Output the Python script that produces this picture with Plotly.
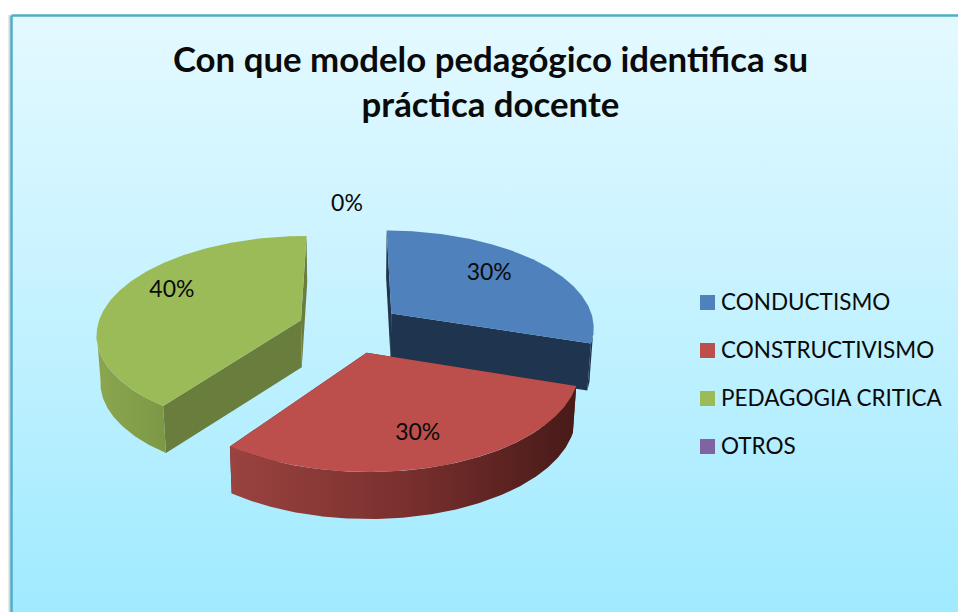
import numpy as np
import plotly.graph_objects as go

TITLE = "Con que modelo pedagógico identifica su<br>práctica docente"
categories = ["CONDUCTISMO", "CONSTRUCTIVISMO", "PEDAGOGIA CRITICA", "OTROS"]
values = [30, 30, 40, 0]
top_colors = ["#4F81BD", "#BC4F4C", "#9BBB59", "#8064A2"]
edge_colors = ["#1F344F", "#5A211F", "#697D3C", "#4D3C62"]
outer_scales = [
    [[0, "#1F344F"], [1, "#1F344F"]],
    [[0, "#9A4340"], [0.5, "#7A302E"], [1, "#471A18"]],
    [[0, "#8CA64F"], [1, "#7D9845"]],
    [[0, "#4D3C62"], [1, "#4D3C62"]],
]
label_r = [0.66, 0.78, 0.72, 1.28]
label_dx = [-2, -7, 4, -3]
label_dy = [-5, -4, -8, 2]

# chart geometry (the wedges are derived from `values`)
CX, CY, R, K, F, EX, EY, DEPTH = 350, 328, 204, 97, 7.8, 0.255, 0.26, 47


def project(X, Y, z=0.0):
    s = F / (F + np.asarray(Y, dtype=float))
    zs = 1 - 0.015 * z
    return CX + np.asarray(X) * R * s * zs, CY - np.asarray(Y) * K * s + z * DEPTH


def poly(px, py, **kw):
    return go.Scatter(x=np.r_[px, px[0]], y=np.r_[py, py[0]], mode="lines", fill="toself",
                      hoverinfo="skip", showlegend=False, **kw)


fig = go.Figure()
# panel
fig.add_trace(go.Scatter(x=[9.5, 9.5], y=[15, 620], mode="lines", line=dict(color="#D5D5D5", width=2),
                         hoverinfo="skip", showlegend=False))
fig.add_trace(go.Scatter(
    x=[11.5, 975, 975, 11.5, 11.5], y=[15.5, 15.5, 625, 625, 15.5], mode="lines", fill="toself",
    fillgradient=dict(type="vertical", start=15, stop=612,
                      colorscale=[[0, "#E4F9FF"], [0.5, "#C4F2FF"], [1, "#A0EAFF"]]),
    line=dict(color="#4FADC8", width=2.5), hoverinfo="skip", showlegend=False))

fracs = np.array(values) / sum(values)
starts = np.r_[0, np.cumsum(fracs)[:-1]] * 2 * np.pi
ends = np.cumsum(fracs) * 2 * np.pi
for i in [0, 2, 1]:
    a0, a1 = starts[i], ends[i]
    mid = (a0 + a1) / 2
    ox, oy = EX * np.sin(mid), EY * np.cos(mid)
    th = np.linspace(a0, a1, 180)
    X, Y = ox + np.sin(th), oy + np.cos(th)
    ax, ay = project(ox, oy)
    bx, by = project(ox, oy, 1)
    tx, ty = project(X, Y)
    ux, uy = project(X, Y, 1)
    for j in (0, -1):
        fig.add_trace(poly(np.array([ax, tx[j], ux[j], bx]), np.array([ay, ty[j], uy[j], by]),
                           line=dict(width=0), fillcolor=edge_colors[i]))
    # the outer wall is only seen on the part of the rim that faces the viewer
    front = np.cos(th) <= -1 / (F + oy)
    fig.add_trace(go.Scatter(
        x=np.r_[tx[front], ux[front][::-1], tx[front][0]],
        y=np.r_[ty[front], uy[front][::-1], ty[front][0]], mode="lines", fill="toself",
        fillgradient=dict(type="horizontal", colorscale=outer_scales[i]),
        line=dict(width=0), hoverinfo="skip", showlegend=False))
    fig.add_trace(poly(np.r_[ax, tx], np.r_[ay, ty], line=dict(width=0), fillcolor=top_colors[i]))

# value labels
for i, v in enumerate(values):
    mid = (starts[i] + ends[i]) / 2
    ox, oy = EX * np.sin(mid), EY * np.cos(mid)
    lx, ly = project(ox + label_r[i] * np.sin(mid), oy + label_r[i] * np.cos(mid))
    fig.add_trace(go.Scatter(x=[lx + label_dx[i]], y=[ly + label_dy[i]], mode="text", text=[f"{v}%"],
                             textposition="middle center",
                             textfont=dict(family="Lato", size=23, color="#0A0A0A"),
                             hoverinfo="skip", showlegend=False))

# legend
rows = [302.5 + 48 * i for i in range(len(categories))]
fig.add_trace(go.Scatter(x=[707.5] * len(categories), y=rows, mode="markers",
                         marker=dict(symbol="square", size=15, color=top_colors),
                         hoverinfo="skip", showlegend=False))
fig.add_trace(go.Scatter(x=[721] * len(categories), y=[r + 2 for r in rows], mode="text", text=categories,
                         textposition="middle right",
                         textfont=dict(family="Lato", size=22.5, color="#0A0A0A"),
                         hoverinfo="skip", showlegend=False))

fig.update_layout(
    width=958, height=612, margin=dict(l=0, r=0, t=0, b=0), showlegend=False,
    paper_bgcolor="white", plot_bgcolor="rgba(0,0,0,0)",
    xaxis=dict(range=[0, 958], visible=False, fixedrange=True),
    yaxis=dict(range=[612, 0], visible=False, fixedrange=True),
    title=dict(text=TITLE, x=490.5 / 958, xanchor="center", y=1 - 72 / 612, yanchor="top",
               font=dict(family="Lato", size=34.8, color="#0A0A0A", weight="bold")),
)
fig.write_html("out.html", post_script="document.body.style.margin='0';document.body.style.overflow='hidden';",
               config={"displayModeBar": False})
